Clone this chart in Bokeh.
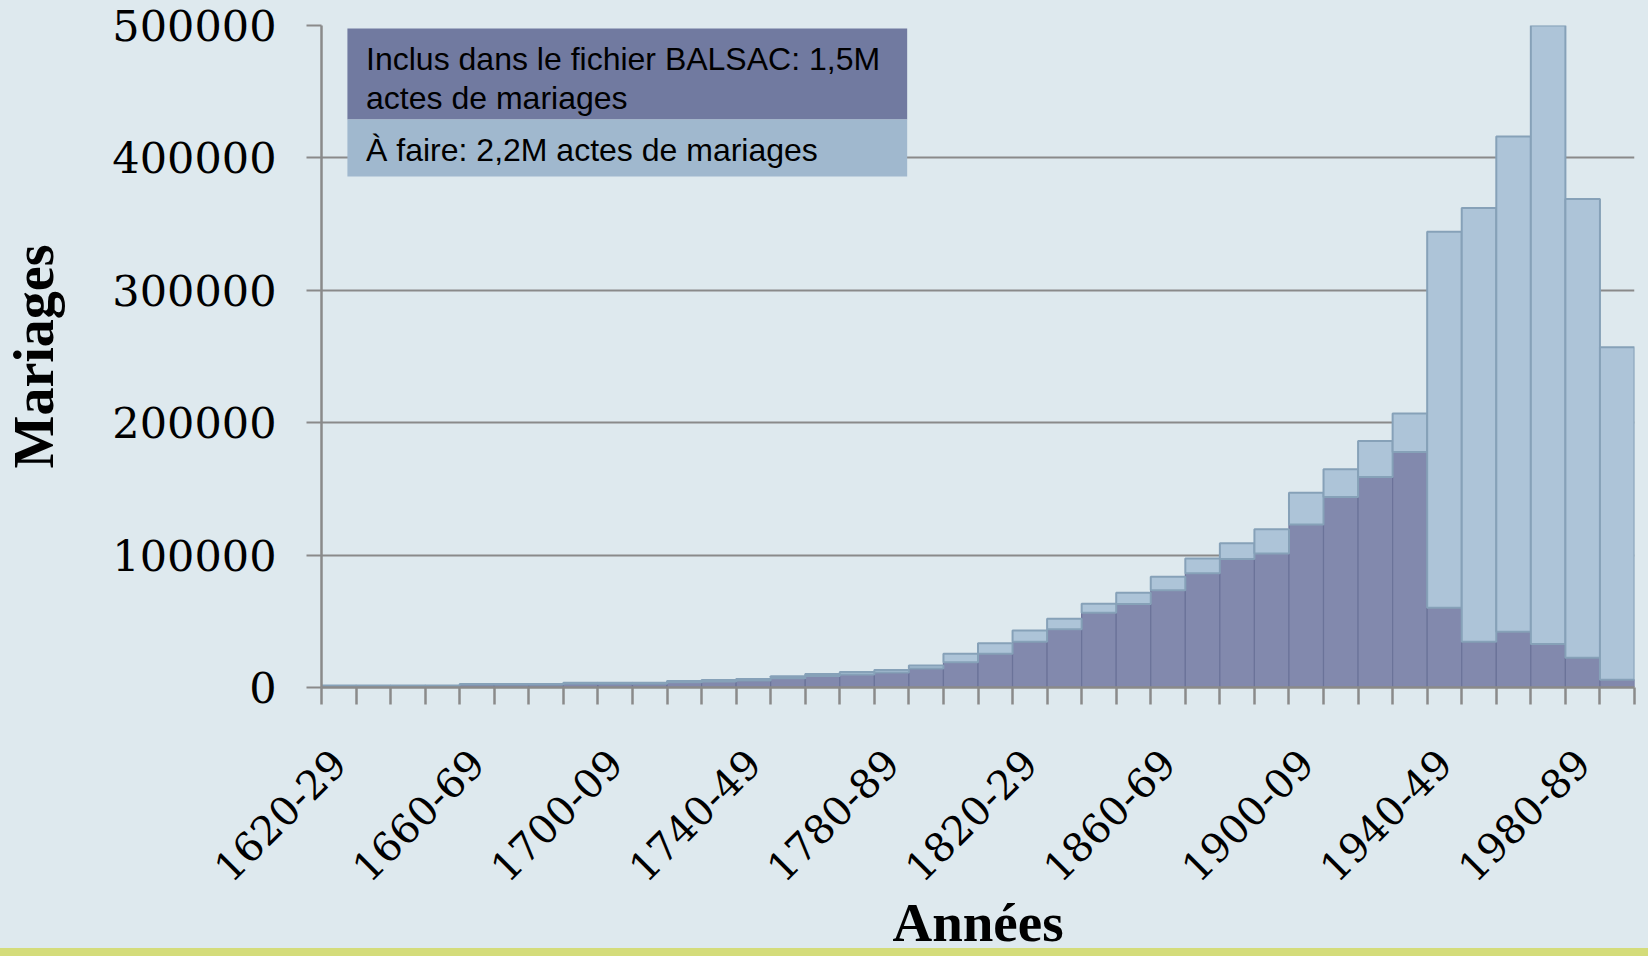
from math import pi

from bokeh.embed import file_html
from bokeh.models import (BasicTickFormatter, BoxAnnotation, ColumnDataSource,
                          FixedTicker, Label, Range1d)
from bokeh.plotting import figure
from bokeh.resources import INLINE

# ---------------- data ----------------
start_years = list(range(1620, 2000, 10))
decades = [f"{y}-{str(y + 9)[2:]}" for y in start_years]

# total marriages per decade (included + to do)
total = [1500, 1500, 1500, 1500, 2700, 2700, 2700, 3500, 3500, 3500,
         5000, 5700, 6500, 8500, 10200, 11700, 13200, 16700, 25500, 33500,
         43000, 52000, 63200, 71500, 83700, 97500, 109000, 119500, 147000, 164800,
         186200, 207000, 344300, 362100, 416200, 515000, 369000, 256900]
# marriages already included in BALSAC
included = [1200, 1200, 1200, 1200, 2200, 2200, 2200, 2800, 2800, 2800,
            4000, 4600, 5200, 7000, 8600, 9900, 11300, 14300, 19000, 25500,
            34500, 44000, 56500, 63000, 73500, 86200, 97000, 101200, 123200, 143800,
            159000, 177800, 60300, 34500, 42100, 32800, 22400, 5900]

y_ticks = [0, 100000, 200000, 300000, 400000, 500000]
label_every = 4
legend_line1 = "Inclus dans le fichier BALSAC: 1,5M"
legend_line2 = "actes de mariages"
legend_line3 = "À faire: 2,2M actes de mariages"
x_title = "Années"
y_title = "Mariages"

# ---------------- style ----------------
BG = "#dee9ee"
DARK = "#8289ad"
DARK_LINE = "#6b7399"
LIGHT = "#adc4d8"
LIGHT_LINE = "#86a1b8"
LEG_DARK = "#717aa0"
LEG_LIGHT = "#a0b8ce"
GRID = "#8a8a8a"
BAND = "#d4dc7a"

n = len(decades)
xs = list(range(n))
src = ColumnDataSource(dict(x=xs, total=total, included=included))

p = figure(width=1648, height=956,
           x_range=Range1d(-0.5, n - 0.5), y_range=Range1d(0, 500000),
           output_backend="svg", toolbar_location=None,
           min_border_left=320, min_border_right=14, min_border_top=25,
           min_border_bottom=269,
           background_fill_color=BG, border_fill_alpha=0,
           outline_line_color=None)
# page colour with the thin green band at the very bottom
p.styles = {"background": f"linear-gradient(to bottom, {BG} 0px, {BG} 948px, {BAND} 948px, {BAND} 956px)"}

p.vbar(x="x", width=1.0, bottom=0, top="included", source=src,
       fill_color=DARK, line_color=DARK_LINE, line_width=1.2)
p.vbar(x="x", width=1.0, bottom="included", top="total", source=src,
       fill_color=LIGHT, line_color=LIGHT_LINE, line_width=2)

# x axis: labels at every 4th decade, tick marks at every bar boundary
xt = FixedTicker(ticks=xs[::label_every], minor_ticks=[i - 0.5 for i in range(n + 1)])
xa = p.xaxis[0]
xa.ticker = xt
xa.major_label_overrides = {i: decades[i] for i in xs[::label_every]}
xa.major_label_orientation = pi / 4
xa.major_tick_out = 0
xa.major_tick_in = 0
xa.minor_tick_out = 17
xa.minor_tick_in = 0
xa.minor_tick_line_color = GRID
xa.minor_tick_line_width = 2.5
xa.axis_line_color = GRID
xa.axis_line_width = 2.5
xa.major_label_text_font = "DejaVu Serif"
xa.major_label_text_font_size = "40px"
xa.major_label_text_color = "black"
xa.major_label_standoff = 52
xa.axis_label = x_title
xa.axis_label_text_font = "Liberation Serif"
xa.axis_label_text_font_style = "bold"
xa.axis_label_text_font_size = "55px"
xa.axis_label_text_color = "black"
xa.axis_label_standoff = -6

ya = p.yaxis[0]
ya.ticker = FixedTicker(ticks=y_ticks)
ya.formatter = BasicTickFormatter(use_scientific=False)
ya.major_tick_out = 15
ya.major_tick_in = 0
ya.major_tick_line_color = GRID
ya.major_tick_line_width = 2
ya.axis_line_color = GRID
ya.axis_line_width = 2.5
ya.major_label_text_font = "DejaVu Serif"
ya.major_label_text_font_size = "43px"
ya.major_label_text_color = "black"
ya.major_label_standoff = 30
ya.axis_label = y_title
ya.axis_label_text_font = "Liberation Serif"
ya.axis_label_text_font_style = "bold"
ya.axis_label_text_font_size = "56px"
ya.axis_label_text_color = "black"
ya.axis_label_standoff = 44

p.xgrid.visible = False
p.ygrid.grid_line_color = GRID
p.ygrid.grid_line_width = 2

# legend block (top-left, inside the plot)
p.add_layout(BoxAnnotation(left=0.25, right=16.45, top=497700, bottom=429000,
                           fill_color=LEG_DARK, fill_alpha=1, line_color=None))
p.add_layout(BoxAnnotation(left=0.25, right=16.45, top=429000, bottom=386000,
                           fill_color=LEG_LIGHT, fill_alpha=1, line_color=None))
for txt, yv in [(legend_line1, 474500), (legend_line2, 445100), (legend_line3, 406200)]:
    p.add_layout(Label(x=0.79, y=yv, text=txt, text_font="Liberation Sans",
                       text_font_size="32px", text_color="black",
                       text_baseline="middle", text_align="left"))

open("out.html", "w").write(file_html(p, INLINE))
